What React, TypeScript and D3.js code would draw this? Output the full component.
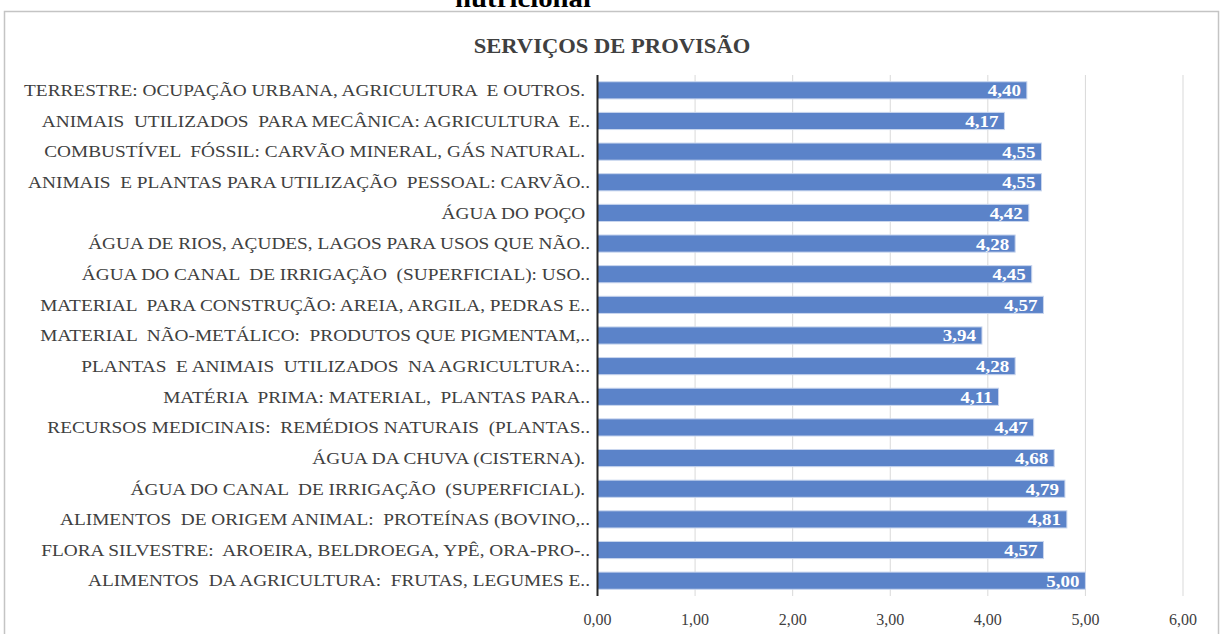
import * as d3 from 'd3';
import React from 'react';

// categories, top to bottom as in the chart
const categories: string[] = [
  'TERRESTRE: OCUPAÇÃO URBANA, AGRICULTURA  E OUTROS. ',
  'ANIMAIS  UTILIZADOS  PARA MECÂNICA: AGRICULTURA  E..',
  'COMBUSTÍVEL  FÓSSIL: CARVÃO MINERAL, GÁS NATURAL. ',
  'ANIMAIS  E PLANTAS PARA UTILIZAÇÃO  PESSOAL: CARVÃO..',
  'ÁGUA DO POÇO ',
  'ÁGUA DE RIOS, AÇUDES, LAGOS PARA USOS QUE NÃO..',
  'ÁGUA DO CANAL  DE IRRIGAÇÃO  (SUPERFICIAL): USO..',
  'MATERIAL  PARA CONSTRUÇÃO: AREIA, ARGILA, PEDRAS E..',
  'MATERIAL  NÃO-METÁLICO:  PRODUTOS QUE PIGMENTAM,..',
  'PLANTAS  E ANIMAIS  UTILIZADOS  NA AGRICULTURA:..',
  'MATÉRIA  PRIMA: MATERIAL,  PLANTAS PARA..',
  'RECURSOS MEDICINAIS:  REMÉDIOS NATURAIS  (PLANTAS..',
  'ÁGUA DA CHUVA (CISTERNA). ',
  'ÁGUA DO CANAL  DE IRRIGAÇÃO  (SUPERFICIAL). ',
  'ALIMENTOS  DE ORIGEM ANIMAL:  PROTEÍNAS (BOVINO,..',
  'FLORA SILVESTRE:  AROEIRA, BELDROEGA, YPÊ, ORA-PRO-..',
  'ALIMENTOS  DA AGRICULTURA:  FRUTAS, LEGUMES E..',
];
const values: number[] = [4.40, 4.17, 4.55, 4.55, 4.42, 4.28, 4.45, 4.57, 3.94, 4.28, 4.11, 4.47, 4.68, 4.79, 4.81, 4.57, 5.00];
const ticks: number[] = [0, 1, 2, 3, 4, 5, 6];

const title = 'SERVIÇOS DE PROVISÃO';
const topCaption = 'nutricional';

const W = 1222;
const H = 634;
const m = { left: 597.5, right: 1183, top: 75, bottom: 596 };
const serif = { fontFamily: 'Liberation Serif', whiteSpace: 'pre' as const };
const fmt = (v: number) => v.toFixed(2).replace('.', ',');

// text stretched horizontally around its anchor, like the source image
const sText = (x: number, y: number, sx: number) => `translate(${x},${y}) scale(${sx},1)`;

export default function App() {
  const x = d3.scaleLinear().domain([0, 6]).range([m.left, m.right]);
  const y = d3.scaleBand<number>()
    .domain(d3.range(categories.length))
    .range([m.top, m.bottom])
    .paddingInner(0.44)
    .paddingOuter(0.22);
  const bh = y.bandwidth();

  return (
    <svg width={W} height={H} style={{ position: 'absolute', left: 0, top: 0, background: '#fff' }}>
      <text transform={sText(523, 7, 1.15)} textAnchor="middle" style={serif} fontWeight="bold" fontSize={25} fill="#000">{topCaption}</text>
      <rect x={4.5} y={11.5} width={1214} height={640} fill="#fff" stroke="#c4c4c4" strokeWidth={1.5} />
      <text transform={sText(612, 53, 1.13)} textAnchor="middle" style={serif} fontWeight="bold" fontSize={20} fill="#404040">{title}</text>

      <g>
        {ticks.map(t => (
          <line key={t} x1={x(t)} x2={x(t)} y1={m.top} y2={m.bottom} stroke="#d9d9d9" strokeWidth={1} />
        ))}
      </g>

      <g>
        {values.map((v, i) => (
          <g key={i}>
            <rect x={x(0)} y={y(i)!} width={x(v) - x(0)} height={bh} fill="#5b83c9" stroke="#c9d6ee" strokeWidth={1} />
            <text transform={sText(x(v) - 6, y(i)! + bh / 2, 1.15)} dy="0.36em" textAnchor="end" style={serif} fontWeight="bold" fontSize={16.5} fill="#fff">{fmt(v)}</text>
          </g>
        ))}
      </g>

      <line x1={x(0)} x2={x(0)} y1={m.top} y2={m.bottom} stroke="#262626" strokeWidth={2} />

      <g>
        {categories.map((c, i) => (
          <text key={i} transform={sText(590, y(i)! + bh / 2, 1.17)} dy="0.35em" textAnchor="end" style={serif} fontSize={16.5} fill="#404040">{c}</text>
        ))}
      </g>

      <g>
        {ticks.map(t => (
          <text key={t} x={x(t)} y={619} dy="0.35em" textAnchor="middle" style={serif} fontSize={16} fill="#404040">{fmt(t)}</text>
        ))}
      </g>
    </svg>
  );
}
